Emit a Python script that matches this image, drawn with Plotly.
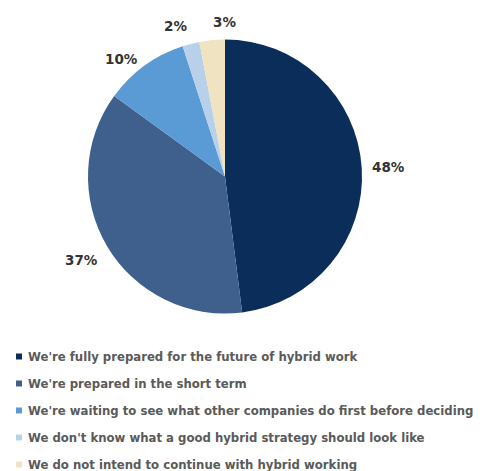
import math
import plotly.graph_objects as go

labels = [
    "We're fully prepared for the future of hybrid work",
    "We're prepared in the short term",
    "We're waiting to see what other companies do first before deciding",
    "We don't know what a good hybrid strategy should look like",
    "We do not intend to continue with hybrid working",
]
values = [48, 37, 10, 2, 3]
colors = ["#0b2d59", "#3f5f8d", "#5b9bd5", "#b9d0ea", "#efe3c2"]

W, H = 484, 471

# pie placement in pixels
CX, CY, R = 225, 176.5, 137
LABEL_R = 145

fig = go.Figure(
    go.Pie(
        labels=labels,
        values=values,
        sort=False,
        direction="clockwise",
        rotation=0,
        marker=dict(colors=colors, line=dict(width=0)),
        textinfo="none",
        hoverinfo="label+value",
        showlegend=False,
        domain=dict(x=[(CX - R) / W, (CX + R) / W], y=[(H - CY - R) / H, (H - CY + R) / H]),
    )
)

# value labels just outside each slice, placed at the slice's mid angle
total = sum(values)
annotations = []
cum = 0
for v in values:
    mid = (cum + v / 2) / total * 2 * math.pi
    cum += v
    s, c = math.sin(mid), math.cos(mid)
    px = CX + LABEL_R * s
    py = CY - LABEL_R * c
    xa = "left" if s > -0.15 else "right"
    ya = "bottom" if c > 0.85 else ("top" if c < -0.3 else "middle")
    annotations.append(
        dict(
            x=px / W, y=1 - py / H, xref="paper", yref="paper",
            text=f"<b>{v}%</b>", showarrow=False, xanchor=xa, yanchor=ya,
            font=dict(family="DejaVu Sans", size=13.5, color="#333333"),
        )
    )

# legend drawn as small squares with text beside them
shapes = []
ROW0, ROW_STEP = 356.5, 27
for i, (lab, col) in enumerate(zip(labels, colors)):
    yc = ROW0 + i * ROW_STEP
    shapes.append(
        dict(
            type="rect", xref="paper", yref="paper",
            x0=16 / W, x1=22 / W, y0=1 - (yc + 3) / H, y1=1 - (yc - 3) / H,
            fillcolor=col, line=dict(width=0),
        )
    )
    annotations.append(
        dict(
            x=26 / W, y=1 - yc / H, xref="paper", yref="paper",
            text=f"<b>{lab}</b>", showarrow=False, xanchor="left", yanchor="middle",
            font=dict(family="DejaVu Sans", size=11.7, color="#5a5a5a"),
        )
    )

fig.update_layout(
    width=W,
    height=H,
    margin=dict(l=0, r=0, t=0, b=0),
    paper_bgcolor="white",
    plot_bgcolor="white",
    annotations=annotations,
    shapes=shapes,
)

fig.write_html("out.html")
